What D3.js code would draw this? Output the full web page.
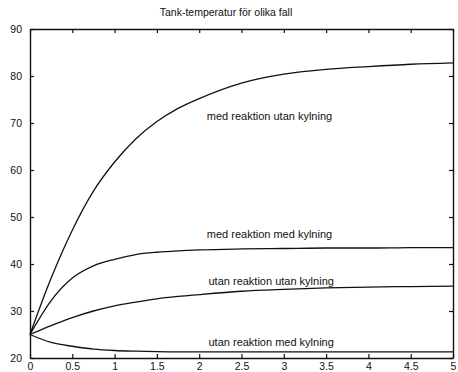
<!DOCTYPE html>
<html>
<head>
<meta charset="utf-8">
<script src="https://cdn.jsdelivr.net/npm/d3@7"></script>
<style>
  html, body { margin: 0; padding: 0; background: #fff; }
  svg { display: block; }
  text { font-family: "Liberation Sans", Arial, Helvetica, sans-serif; fill: #111; }
</style>
</head>
<body>
<svg id="chart" width="458" height="372"></svg>
<script>
// Time axis (hours) shared by all four cases
const timePoints = [0, 0.25, 0.5, 0.75, 1, 1.25, 1.5, 1.75, 2, 2.5, 3, 3.5, 4, 4.5, 5];

// Tank temperature for each case
const medReaktionUtanKylning = [25, 37.0, 47.2, 55.5, 61.7, 66.6, 70.3, 73.1, 75.2, 78.5, 80.4, 81.4, 82.0, 82.5, 82.8];
const medReaktionMedKylning  = [25, 32.2, 37.0, 39.6, 41.0, 42.0, 42.5, 42.8, 43.0, 43.2, 43.3, 43.4, 43.4, 43.5, 43.5];
const utanReaktionUtanKylning = [25, 26.9, 28.6, 30.0, 31.1, 31.9, 32.6, 33.1, 33.5, 34.2, 34.6, 34.9, 35.1, 35.2, 35.3];
const utanReaktionMedKylning  = [25, 23.3, 22.5, 21.9, 21.6, 21.45, 21.35, 21.3, 21.3, 21.3, 21.3, 21.3, 21.3, 21.3, 21.3];

const seriesNames = ["med reaktion utan kylning", "med reaktion med kylning",
                     "utan reaktion utan kylning", "utan reaktion med kylning"];
const seriesValues = [medReaktionUtanKylning, medReaktionMedKylning,
                      utanReaktionUtanKylning, utanReaktionMedKylning];
// Where each case's caption sits (time, temperature)
const labelTime = [2.09, 2.09, 2.11, 2.11];
const labelTemp = [70.6, 45.6, 35.6, 22.6];

const xTicks = [0, 0.5, 1, 1.5, 2, 2.5, 3, 3.5, 4, 4.5, 5];
const yTicks = [20, 30, 40, 50, 60, 70, 80, 90];
const title = "Tank-temperatur för olika fall";

const svg = d3.select("#chart");
const plotLeft = 30, plotRight = 453, plotTop = 29, plotBottom = 358;

const x = d3.scaleLinear().domain([0, 5]).range([plotLeft, plotRight]);
const y = d3.scaleLinear().domain([20, 90]).range([plotBottom, plotTop]);

// Title
svg.append("text")
  .attr("x", 226).attr("y", 16)
  .attr("text-anchor", "middle")
  .attr("font-size", 10.5)
  .text(title);

// Axes with inward ticks on all four sides (box style)
const tickLen = 4;
const fmt = d => String(d);
const gx = svg.append("g").attr("transform", `translate(0,${plotBottom})`)
  .call(d3.axisBottom(x).tickValues(xTicks).tickFormat(fmt).tickSizeInner(-tickLen).tickSizeOuter(0).tickPadding(5));
const gxTop = svg.append("g").attr("transform", `translate(0,${plotTop})`)
  .call(d3.axisTop(x).tickValues(xTicks).tickFormat("").tickSizeInner(-tickLen).tickSizeOuter(0));
const gy = svg.append("g").attr("transform", `translate(${plotLeft},0)`)
  .call(d3.axisLeft(y).tickValues(yTicks).tickFormat(fmt).tickSizeInner(-tickLen).tickSizeOuter(0).tickPadding(8));
const gyRight = svg.append("g").attr("transform", `translate(${plotRight},0)`)
  .call(d3.axisRight(y).tickValues(yTicks).tickFormat("").tickSizeInner(-tickLen).tickSizeOuter(0));

[gx, gxTop, gy, gyRight].forEach(g => {
  g.select(".domain").attr("stroke", "#111").attr("stroke-width", 1.4);
  g.selectAll(".tick line").attr("stroke", "#111").attr("stroke-width", 1.2);
  g.selectAll(".tick text").attr("font-size", 10.5).attr("fill", "#111")
    .style("font-family", "'Liberation Sans', Arial, sans-serif");
});

// Curves
const line = d3.line()
  .x((d, i) => x(timePoints[i]))
  .y(d => y(d))
  .curve(d3.curveMonotoneX);

svg.append("g").selectAll("path")
  .data(seriesValues)
  .join("path")
  .attr("d", d => line(d))
  .attr("fill", "none")
  .attr("stroke", "#111")
  .attr("stroke-width", 1.3);

// Captions
svg.append("g").selectAll("text")
  .data(seriesNames)
  .join("text")
  .attr("x", (d, i) => x(labelTime[i]))
  .attr("y", (d, i) => y(labelTemp[i]))
  .attr("font-size", 11)
  .text(d => d);
</script>
</body>
</html>
